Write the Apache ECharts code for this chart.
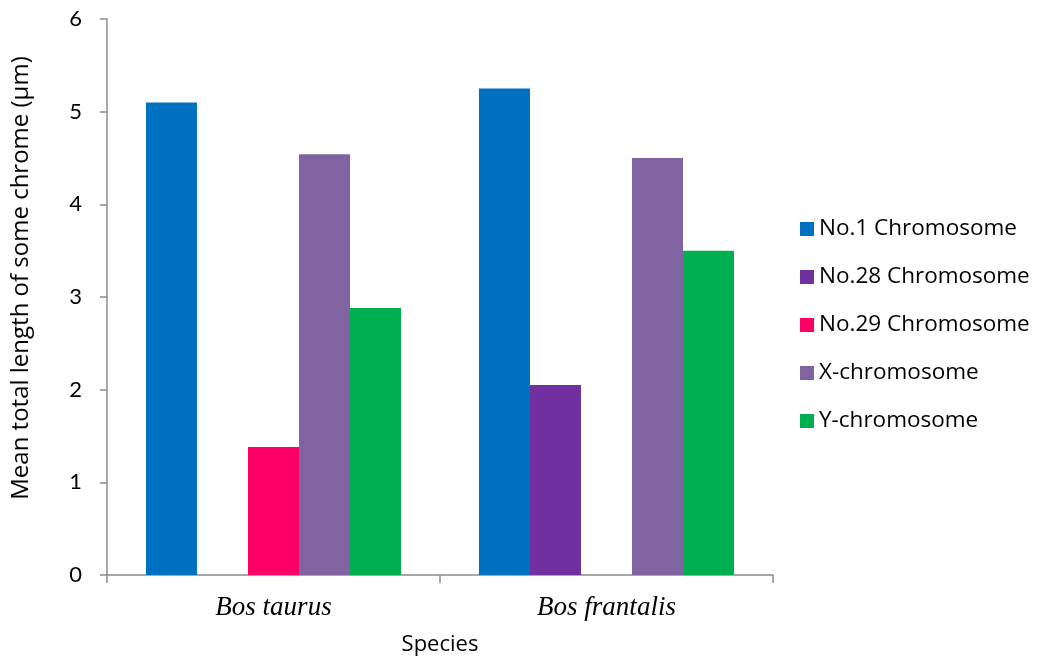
<!DOCTYPE html>
<html>
<head>
<meta charset="utf-8">
<script src="https://cdn.jsdelivr.net/npm/echarts@6/dist/echarts.min.js"></script>
<style>
  html, body { margin: 0; padding: 0; background: #fff; }
  #chart { width: 1037px; height: 658px; }
</style>
</head>
<body>
<div id="chart"></div>
<script>
// Species on the category axis
const species = ['Bos taurus', 'Bos frantalis'];

// Mean total length (µm) per chromosome; null where no bar is drawn
const no1Chromosome = [5.1, 5.25];
const no28Chromosome = [null, 2.05];
const no29Chromosome = [1.38, null];
const xChromosome = [4.54, 4.5];
const yChromosome = [2.88, 3.5];

const yTicks = { min: 0, max: 6, interval: 1 };

const seriesDefs = [
  { name: 'No.1 Chromosome', data: no1Chromosome, color: '#0070C0' },
  { name: 'No.28 Chromosome', data: no28Chromosome, color: '#7030A0' },
  { name: 'No.29 Chromosome', data: no29Chromosome, color: '#FF0066' },
  { name: 'X-chromosome', data: xChromosome, color: '#8064A2' },
  { name: 'Y-chromosome', data: yChromosome, color: '#00B050' }
];

const font = 'Lato, "Open Sans", sans-serif';
const textFont = '"Open Sans", Lato, sans-serif';
const axisGray = '#8c8c8c';

const chart = echarts.init(document.getElementById('chart'), null, { renderer: 'canvas' });
chart.setOption({
  animation: false,
  backgroundColor: '#ffffff',
  grid: { left: 107, right: 264, top: 19, bottom: 83, containLabel: false, outerBoundsMode: 'none' },
  legend: {
    orient: 'vertical',
    left: 795,
    top: 212,
    itemWidth: 14,
    itemHeight: 14,
    itemGap: 24,
    icon: 'rect',
    textStyle: { fontFamily: textFont, fontSize: 22.5, color: '#000', lineHeight: 24, padding: [0, 0, 0, 0] },
    data: seriesDefs.map(s => s.name)
  },
  xAxis: {
    type: 'category',
    data: species,
    name: 'Species',
    nameLocation: 'middle',
    nameGap: 59,
    nameTextStyle: { fontFamily: textFont, fontSize: 22, color: '#000' },
    axisLine: { lineStyle: { color: axisGray, width: 1.5 } },
    axisTick: { show: true, length: 8, lineStyle: { color: axisGray, width: 1.5 } },
    axisLabel: {
      fontFamily: '"Liberation Serif", "DejaVu Serif", serif',
      fontStyle: 'italic',
      fontSize: 27,
      color: '#000',
      margin: 19
    }
  },
  yAxis: {
    type: 'value',
    min: yTicks.min,
    max: yTicks.max,
    interval: yTicks.interval,
    name: 'Mean total length of some chrome (µm)',
    nameLocation: 'middle',
    nameGap: 74,
    // the title sits a little above the middle of the axis
    nameTextStyle: { fontFamily: textFont, fontSize: 24, color: '#000', padding: [0, 0, 0, 38] },
    splitLine: { show: false },
    axisLine: { show: true, lineStyle: { color: axisGray, width: 1.5 } },
    axisTick: { show: true, length: 7, lineStyle: { color: axisGray, width: 1.5 } },
    axisLabel: { fontFamily: font, fontSize: 22, color: '#000', margin: 25 }
  },
  series: seriesDefs.map(s => ({
    name: s.name,
    type: 'bar',
    data: s.data,
    barGap: '0%',
    barCategoryGap: '23.4%',
    itemStyle: { color: s.color }
  }))
});
</script>
</body>
</html>
